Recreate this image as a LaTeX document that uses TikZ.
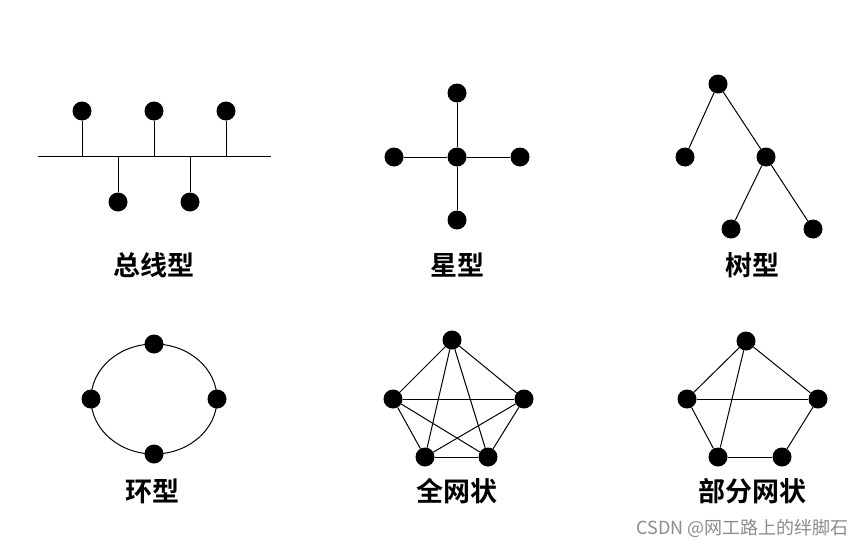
\documentclass[tikz,border=0pt]{standalone}
\usepackage{fontspec}
\newfontfamily\cjk{Noto Sans CJK SC}
\newfontfamily\cjkb{Noto Sans CJK SC Bold}
\begin{document}
\begin{tikzpicture}[x=1pt,y=-1pt,
  dot/.style={circle,fill=black,inner sep=0pt,minimum size=19pt},
  ln/.style={line width=1pt},
  lab/.style={font=\cjkb\fontsize{27}{29}\selectfont}]
\useasboundingbox[fill=white] (0,0) rectangle (865,549);
% bus
\coordinate (b1) at (38,156); \coordinate (b2) at (271,156);
\draw[ln] (b1) -- (b2);
\foreach \i/\x/\y/\s in {1/82/111/156,2/154/111/156,3/226/111/156,4/118/202/156,5/190/202/156}{
  \node[dot] (bn\i) at (\x,\y) {};
  \coordinate (bs\i) at (\x,\s);
  \draw[ln] (bn\i) -- (bs\i);}
\node[lab] (l1) at (154,265) {总线型};
% star
\node[dot] (sc) at (457,157) {};
\node[dot] (st) at (457,93) {};
\node[dot] (sl) at (394,157) {};
\node[dot] (sr) at (520,157) {};
\node[dot] (sb) at (457,220) {};
\foreach \n in {st,sl,sr,sb} \draw[ln] (sc) -- (\n);
\node[lab] (l2) at (457,265) {星型};
% tree
\node[dot] (tr) at (718,84) {};
\node[dot] (tl) at (685,157) {};
\node[dot] (tm) at (766,157) {};
\node[dot] (tbl) at (731,229) {};
\node[dot] (tbr) at (813,229) {};
\draw[ln] (tr)--(tl) (tr)--(tm) (tm)--(tbl) (tm)--(tbr);
\node[lab] (l3) at (752,265) {树型};
% ring
\draw[ln] (154,399) ellipse [x radius=63, y radius=55];
\node[dot] (r1) at (154,344) {};
\node[dot] (r2) at (91,399) {};
\node[dot] (r3) at (217,399) {};
\node[dot] (r4) at (154,454) {};
\node[lab] (l4) at (152,491) {环型};
% full mesh
\node[dot] (f1) at (452,340) {};
\node[dot] (f2) at (393,399) {};
\node[dot] (f3) at (524,399) {};
\node[dot] (f4) at (425,457) {};
\node[dot] (f5) at (488,457) {};
\foreach \a/\b in {f1/f2,f1/f3,f1/f4,f1/f5,f2/f3,f2/f4,f2/f5,f3/f4,f3/f5,f4/f5}
  \draw[ln] (\a) -- (\b);
\node[lab] (l5) at (457,491) {全网状};
% partial mesh
\node[dot] (p1) at (746,341) {};
\node[dot] (p2) at (687,399) {};
\node[dot] (p3) at (818,399) {};
\node[dot] (p4) at (718,457) {};
\node[dot] (p5) at (782,457) {};
\foreach \a/\b in {p1/p2,p1/p3,p1/p4,p2/p3,p2/p4,p4/p5,p5/p3}
  \draw[ln] (\a) -- (\b);
\node[lab] (l6) at (752,491) {部分网状};
\node[font=\cjk\fontsize{18}{20}\selectfont,text=black!45,anchor=east] (wm) at (852,528) {CSDN @网工路上的绊脚石};
\end{tikzpicture}
\end{document}
